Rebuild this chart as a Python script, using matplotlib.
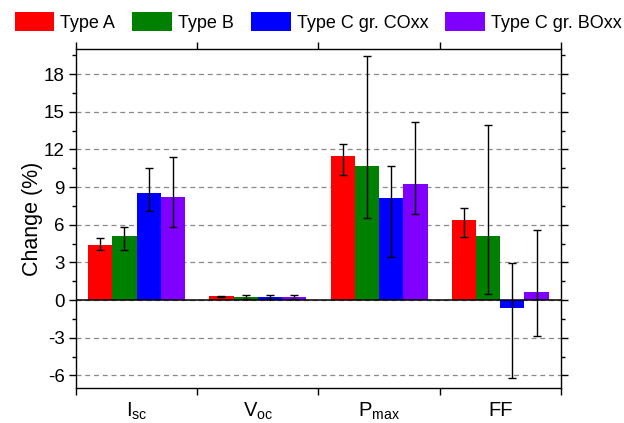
import numpy as np
import matplotlib
matplotlib.use("Agg")
import matplotlib.pyplot as plt
from matplotlib.ticker import MultipleLocator, FixedLocator, NullFormatter

plt.rcParams["font.family"] = ["Liberation Sans", "DejaVu Sans"]
plt.rcParams["axes.unicode_minus"] = False

# --------------------------------------------------
# Data
# --------------------------------------------------

categories = [r"$\mathregular{I_{sc}}$", r"$\mathregular{V_{oc}}$",
              r"$\mathregular{P_{max}}$", "FF"]
series_names = ["Type A", "Type B", "Type C gr. COxx", "Type C gr. BOxx"]
series_colors = ["#ff0000", "#008000", "#0000ff", "#8000ff"]

type_a = [4.42, 0.32, 11.48, 6.42]
type_a_lo = [0.40, 0.04, 1.50, 1.36]
type_a_hi = [0.56, 0.04, 0.98, 0.88]

type_b = [5.09, 0.24, 10.68, 5.09]
type_b_lo = [1.09, 0.17, 4.10, 4.61]
type_b_hi = [0.77, 0.17, 8.79, 8.89]

type_c_co = [8.52, 0.24, 8.15, -0.64]
type_c_co_lo = [1.38, 0.14, 4.68, 5.56]
type_c_co_hi = [1.98, 0.14, 2.55, 3.60]

type_c_bo = [8.23, 0.27, 9.24, 0.62]
type_c_bo_lo = [2.43, 0.16, 2.34, 3.46]
type_c_bo_hi = [3.19, 0.16, 4.95, 5.00]

values = [type_a, type_b, type_c_co, type_c_bo]
err_lo = [type_a_lo, type_b_lo, type_c_co_lo, type_c_bo_lo]
err_hi = [type_a_hi, type_b_hi, type_c_co_hi, type_c_bo_hi]

# --------------------------------------------------
# Figure
# --------------------------------------------------

fig = plt.figure(figsize=(6.24, 4.23), dpi=100)
ax = fig.add_axes([0.1218, 0.0827, 0.777, 0.8013])

centers = np.arange(len(categories)) + 0.5
width = 0.2
offsets = [-0.3, -0.1, 0.1, 0.3]

ax.yaxis.grid(True, which="major", color="#8a8a8a", linestyle=(0, (4, 3)),
              linewidth=0.9)
ax.set_axisbelow(True)

for vals, lo, hi, name, color, off in zip(values, err_lo, err_hi,
                                           series_names, series_colors, offsets):
    ax.bar(centers + off, vals, width, color=color, label=name,
           edgecolor="none", zorder=2)
    ax.errorbar(centers + off, vals, yerr=[lo, hi], fmt="none",
                ecolor="black", elinewidth=1.0, capsize=3, capthick=1.0,
                zorder=3)

ax.axhline(0, color="black", linewidth=1.1, zorder=4)

ax.set_xlim(0, 4)
ax.set_ylim(-7, 20)

ax.yaxis.set_major_locator(FixedLocator([-6, -3, 0, 3, 6, 9, 12, 15, 18]))
ax.yaxis.set_minor_locator(MultipleLocator(1.5))
ax.xaxis.set_major_locator(FixedLocator([0, 1, 2, 3, 4]))
ax.xaxis.set_major_formatter(NullFormatter())
ax.xaxis.set_minor_locator(FixedLocator(centers))
ax.set_xticklabels(categories, minor=True)

ax.tick_params(axis="y", which="major", direction="out", length=5,
               width=1, labelsize=13.5, right=True, pad=3)
ax.tick_params(axis="y", which="minor", direction="out", length=3,
               width=1, right=True)
ax.tick_params(axis="x", which="major", direction="out", length=5,
               width=1, top=True)
ax.tick_params(axis="x", which="minor", length=0, labelsize=14.5, pad=9)

for s in ax.spines.values():
    s.set_linewidth(1.0)

ax.set_ylabel("Change (%)", fontsize=15.5, labelpad=1)

fig.legend(loc="upper center", bbox_to_anchor=(0.510, 0.998), ncol=4,
           frameon=False, fontsize=13, handlelength=2.2, handleheight=1.3,
           handletextpad=0.33, columnspacing=0.95, borderaxespad=0.2)

fig.savefig("out.png", dpi=100)
